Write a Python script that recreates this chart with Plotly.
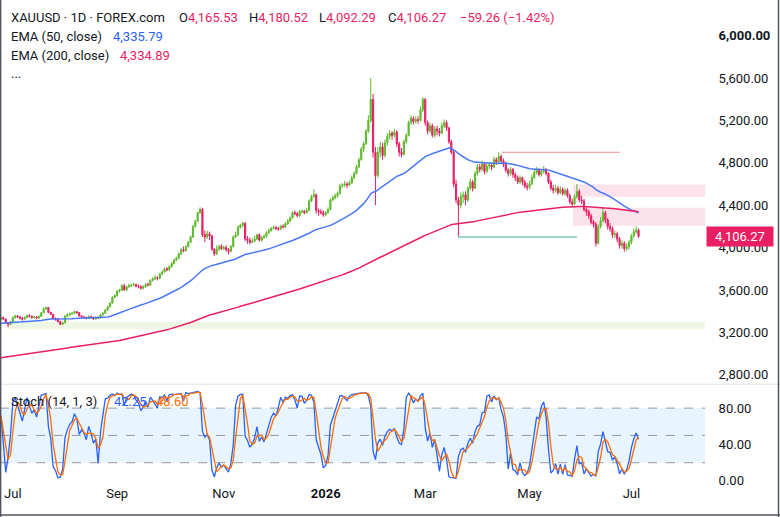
import pandas as pd
import plotly.graph_objects as go

# ---------------- data ----------------
first_open = 3320
closes = [
    3340, 3325, 3285, 3275, 3300, 3338, 3355, 3345, 3335, 3325,
    3340, 3358, 3350, 3340, 3345, 3335, 3350, 3385, 3425, 3435,
    3388, 3370, 3330, 3325, 3300, 3275, 3290, 3350, 3365, 3375,
    3380, 3395, 3385, 3355, 3345, 3340, 3330, 3350, 3340, 3325,
    3340, 3335, 3365, 3380, 3410, 3440, 3475, 3530, 3545, 3590,
    3595, 3640, 3600, 3630, 3640, 3645, 3650, 3635, 3630, 3615,
    3630, 3650, 3645, 3690, 3705, 3715, 3710, 3750, 3770, 3800,
    3790, 3820, 3850, 3880, 3900, 3940, 3980, 3970, 4010, 4050,
    4100, 4200, 4250, 4330, 4360, 4120, 4100, 4130, 4110, 3985,
    3940, 3985, 4010, 3990, 4000, 3980, 3965, 4010, 4100, 4120,
    4190, 4210, 4230, 4080, 4070, 4050, 4060, 4080, 4120, 4070,
    4095, 4105, 4140, 4160, 4180, 4190, 4180, 4175, 4200, 4195,
    4225, 4250, 4280, 4330, 4320, 4300, 4340, 4345, 4330, 4350,
    4440, 4480, 4500, 4350, 4340, 4330, 4310, 4330, 4360, 4450,
    4470, 4490, 4510, 4580, 4590, 4600, 4590, 4610, 4660, 4700,
    4760, 4830, 4930, 4980, 5100, 5200, 5400, 4900, 4680, 4900,
    4950, 4870, 4990, 5050, 5080, 5060, 5090, 4980, 4900, 4880,
    5000, 5060, 5180, 5220, 5190, 5210, 5200, 5300, 5400, 5180,
    5100, 5150, 5060, 5120, 5100, 5080, 5150, 5180, 5130, 5000,
    4900, 4600, 4450, 4400, 4480, 4500, 4450, 4560, 4620, 4560,
    4700, 4760, 4740, 4790, 4720, 4770, 4780, 4760, 4830, 4810,
    4860, 4820, 4790, 4730, 4700, 4740, 4690, 4660, 4620, 4660,
    4620, 4580, 4570, 4600, 4660, 4710, 4730, 4690, 4720, 4740,
    4700, 4620, 4560, 4540, 4560, 4520, 4550, 4510, 4540, 4490,
    4430, 4410, 4480, 4530, 4450, 4440, 4360, 4340, 4300, 4240,
    4220, 4040, 4200, 4250, 4330, 4260, 4200, 4180, 4120, 4130,
    4080, 4020, 4040, 3990, 4010, 4050, 4110, 4150, 4165.53, 4106.27,
]
highs = [
    3352, 3348, 3330, 3295, 3310, 3350, 3365, 3362, 3350, 3345,
    3352, 3368, 3372, 3360, 3358, 3352, 3360, 3392, 3432, 3440,
    3438, 3395, 3375, 3340, 3335, 3310, 3298, 3362, 3380, 3385,
    3392, 3405, 3400, 3390, 3362, 3355, 3348, 3358, 3356, 3348,
    3350, 3348, 3375, 3392, 3420, 3452, 3485, 3540, 3560, 3600,
    3610, 3655, 3658, 3640, 3660, 3660, 3668, 3660, 3650, 3645,
    3645, 3665, 3670, 3700, 3720, 3740, 3730, 3762, 3785, 3812,
    3815, 3832, 3862, 3895, 3915, 3955, 3995, 4010, 4020, 4065,
    4115, 4215, 4265, 4340, 4380, 4375, 4160, 4160, 4150, 4120,
    3995, 4020, 4030, 4030, 4020, 4020, 3995, 4025, 4115, 4150,
    4210, 4225, 4245, 4240, 4110, 4095, 4090, 4110, 4130, 4135,
    4110, 4125, 4155, 4180, 4195, 4210, 4205, 4195, 4215, 4220,
    4240, 4270, 4295, 4345, 4350, 4335, 4355, 4360, 4355, 4375,
    4455, 4500, 4550, 4510, 4370, 4365, 4350, 4345, 4380, 4465,
    4490, 4510, 4530, 4600, 4610, 4630, 4620, 4635, 4680, 4720,
    4780, 4850, 4950, 5000, 5120, 5250, 5600, 5450, 4950, 4950,
    5000, 4990, 5020, 5080, 5110, 5100, 5120, 5110, 5000, 4940,
    5020, 5080, 5200, 5250, 5240, 5240, 5240, 5330, 5420, 5410,
    5200, 5180, 5170, 5150, 5150, 5130, 5180, 5210, 5200, 5140,
    5020, 4920, 4640, 4480, 4520, 4530, 4530, 4580, 4650, 4640,
    4720, 4790, 4790, 4820, 4810, 4800, 4810, 4800, 4860, 4850,
    4900, 4880, 4840, 4810, 4750, 4760, 4750, 4710, 4680, 4680,
    4670, 4640, 4610, 4630, 4690, 4740, 4760, 4750, 4740, 4770,
    4750, 4710, 4640, 4590, 4590, 4580, 4580, 4570, 4560, 4560,
    4510, 4460, 4500, 4600, 4550, 4490, 4460, 4380, 4360, 4320,
    4260, 4240, 4220, 4290, 4370, 4350, 4280, 4230, 4200, 4160,
    4150, 4100, 4070, 4060, 4040, 4070, 4130, 4180, 4200, 4180.52,
]
lows = [
    3310, 3318, 3278, 3248, 3268, 3295, 3330, 3335, 3320, 3310,
    3318, 3332, 3340, 3328, 3330, 3322, 3328, 3345, 3380, 3410,
    3380, 3362, 3322, 3310, 3295, 3268, 3268, 3285, 3342, 3355,
    3366, 3372, 3375, 3348, 3338, 3330, 3322, 3325, 3332, 3318,
    3320, 3328, 3330, 3358, 3372, 3402, 3435, 3470, 3520, 3538,
    3575, 3590, 3592, 3590, 3620, 3628, 3635, 3625, 3615, 3605,
    3605, 3620, 3635, 3640, 3680, 3695, 3690, 3700, 3740, 3762,
    3775, 3782, 3810, 3840, 3870, 3890, 3930, 3955, 3960, 4000,
    4040, 4090, 4190, 4240, 4320, 4100, 4050, 4080, 4070, 3970,
    3920, 3930, 3970, 3975, 3975, 3960, 3935, 3955, 4000, 4090,
    4110, 4180, 4190, 4060, 4035, 4030, 4040, 4050, 4070, 4060,
    4055, 4080, 4095, 4130, 4150, 4170, 4165, 4155, 4165, 4180,
    4185, 4215, 4240, 4270, 4305, 4285, 4290, 4320, 4315, 4320,
    4345, 4430, 4470, 4320, 4300, 4310, 4290, 4300, 4320, 4350,
    4440, 4455, 4470, 4500, 4565, 4570, 4560, 4580, 4600, 4645,
    4690, 4750, 4820, 4900, 4970, 5080, 5180, 4850, 4400, 4660,
    4850, 4830, 4850, 4960, 5020, 5020, 5040, 4950, 4860, 4850,
    4870, 4980, 5050, 5160, 5160, 5170, 5170, 5190, 5280, 5150,
    5070, 5080, 5040, 5040, 5060, 5050, 5070, 5130, 5100, 4980,
    4880, 4570, 4420, 4100, 4370, 4420, 4400, 4430, 4540, 4530,
    4550, 4680, 4710, 4720, 4690, 4700, 4740, 4730, 4750, 4780,
    4800, 4790, 4760, 4710, 4670, 4680, 4660, 4630, 4600, 4600,
    4590, 4560, 4540, 4550, 4590, 4650, 4690, 4670, 4670, 4700,
    4680, 4600, 4540, 4510, 4520, 4500, 4500, 4490, 4490, 4470,
    4410, 4390, 4400, 4460, 4430, 4410, 4340, 4300, 4270, 4220,
    4190, 4010, 4030, 4180, 4240, 4230, 4170, 4150, 4090, 4090,
    4050, 3990, 3990, 3960, 3970, 3980, 4030, 4090, 4130, 4092.29,
]
ema50_seed = 3284      # EMA(50) value at the first visible bar
ema200_seed = 2955     # EMA(200) value at the first visible bar
start_date = "2025-06-24"
tick_months = ["2025-07-01", "2025-09-01", "2025-11-01", "2026-01-01",
               "2026-03-01", "2026-05-01", "2026-07-01"]
tick_labels = ["Jul", "Sep", "Nov", "<b>2026</b>", "Mar", "May", "Jul"]
price_ticks = [2800, 3200, 3600, 4000, 4400, 4800, 5200, 5600, 6000]
stoch_ticks = [0, 40, 80]
green_zone = (3230, 3300)
pink_zone_1 = (4480, 4595)
pink_zone_2 = (4205, 4375)
resistance = 4900
support = 4100
last_price = 4106.27

# ---------------- derived ----------------
n = len(closes)
opens = [first_open] + closes[:-1]
idx = list(range(n))
dates = pd.bdate_range(start_date, periods=n)
tickvals = [int((dates >= pd.Timestamp(m)).argmax()) for m in tick_months]


def ema(values, length, seed):
    a = 2.0 / (length + 1)
    out, e = [], seed
    for v in values:
        e = e + a * (v - e)
        out.append(e)
    return out


ema50 = ema(closes, 50, ema50_seed)
ema200 = ema(closes, 200, ema200_seed)

hs, ls, cs = pd.Series(highs), pd.Series(lows), pd.Series(closes)
hh = hs.rolling(14, min_periods=1).max()
ll = ls.rolling(14, min_periods=1).min()
k = 100 * (cs - ll) / (hh - ll)
d = k.rolling(3, min_periods=1).mean()

# ---------------- figure ----------------
W, H = 780, 517          # target picture size (all positions below use it)
H_LAYOUT = 523           # layout height (renderer shows it ~1% shorter)
PX = 2.37            # pixels per bar in the reference
X0 = 1.0             # pixel of bar 0
PLOT_R = 705
xr = [(0 - X0) / PX, (PLOT_R - X0) / PX]

UP = "#5fba2e"
DN = "#e91e63"
TXT = "#131722"
FONT = "Roboto"

fig = go.Figure()
fig.add_trace(go.Candlestick(
    x=idx, open=opens, high=highs, low=lows, close=closes,
    increasing=dict(line=dict(color=UP, width=1), fillcolor=UP),
    decreasing=dict(line=dict(color=DN, width=1), fillcolor=DN),
    whiskerwidth=0, xaxis="x", yaxis="y", showlegend=False, hoverinfo="skip"))
fig.add_trace(go.Scatter(x=idx, y=ema50, mode="lines",
                         line=dict(color="#4a78f5", width=1.5),
                         xaxis="x", yaxis="y", showlegend=False, hoverinfo="skip"))
fig.add_trace(go.Scatter(x=idx, y=ema200, mode="lines",
                         line=dict(color="#e91e63", width=1.5),
                         xaxis="x", yaxis="y", showlegend=False, hoverinfo="skip"))
fig.add_trace(go.Scatter(x=idx, y=list(k), mode="lines",
                         line=dict(color="#2962ff", width=1.3),
                         xaxis="x", yaxis="y2", showlegend=False, hoverinfo="skip"))
fig.add_trace(go.Scatter(x=idx, y=list(d), mode="lines",
                         line=dict(color="#ff6d00", width=1.3),
                         xaxis="x", yaxis="y2", showlegend=False, hoverinfo="skip"))

p_top, p_bot = 0, 383
s_top, s_bot = 384, 483
ppu = 0.1057
price_range = [6000 - (p_bot - 35.7) / ppu, 6000 + (35.7 - p_top) / ppu]
spu = 0.9083
stoch_range = [(480 - s_bot) / spu, (480 - s_top) / spu]

shapes = []
shapes.append(dict(type="rect", xref="x", yref="y", x0=(7 - X0) / PX, x1=xr[1],
                   y0=green_zone[0], y1=green_zone[1], line=dict(width=0),
                   fillcolor="rgba(139,195,74,0.15)", layer="below"))
for z in (pink_zone_1, pink_zone_2):
    shapes.append(dict(type="rect", xref="x", yref="y", x0=(573 - X0) / PX, x1=xr[1],
                       y0=z[0], y1=z[1], line=dict(width=0),
                       fillcolor="rgba(233,30,99,0.13)", layer="below"))
shapes.append(dict(type="line", xref="x", yref="y", x0=(502 - X0) / PX, x1=(620 - X0) / PX,
                   y0=resistance, y1=resistance, line=dict(color="#f28b8b", width=1.2)))
shapes.append(dict(type="line", xref="x", yref="y", x0=(458 - X0) / PX, x1=(577 - X0) / PX,
                   y0=support, y1=support, line=dict(color="#7fc8bd", width=1.5)))
shapes.append(dict(type="rect", xref="x domain", yref="y2", x0=0, x1=1, y0=20, y1=80,
                   line=dict(width=0), fillcolor="rgba(33,150,243,0.10)", layer="below"))
for lv in (80, 50, 20):
    shapes.append(dict(type="line", xref="x domain", yref="y2", x0=0, x1=1, y0=lv, y1=lv,
                       line=dict(color="#9598a1", width=1, dash="dash"), layer="below"))
shapes.append(dict(type="line", xref="paper", yref="paper", x0=0, x1=1,
                   y0=1 - 383.5 / H, y1=1 - 383.5 / H, line=dict(color="#e0e3eb", width=1)))
for (x0, y0, x1, y1) in [(0.6 / W, 0, 0.6 / W, 1), (778.5 / W, 0, 778.5 / W, 1),
                         (0, 1 - 514.0 / H, 1, 1 - 514.0 / H)]:
    shapes.append(dict(type="line", xref="paper", yref="paper", x0=x0, x1=x1, y0=y0, y1=y1,
                       line=dict(color="#50535e", width=1.5)))

ann = []


def txt(x, y, text, color=TXT, size=13):
    ann.append(dict(xref="paper", yref="paper", x=x / W, y=1 - y / H, text=text,
                    showarrow=False, xanchor="left", yanchor="middle",
                    font=dict(family=FONT, size=size, color=color)))


PINK = "#e91e63"
txt(9, 17, "XAUUSD · 1D · FOREX.com")
txt(177, 17, f"O<span style='color:{PINK}'>4,165.53</span>")
txt(247, 17, f"H<span style='color:{PINK}'>4,180.52</span>")
txt(317, 17, f"L<span style='color:{PINK}'>4,092.29</span>")
txt(386, 17, f"C<span style='color:{PINK}'>4,106.27</span>")
txt(458, 17, "−59.26 (−1.42%)", PINK)
txt(9, 36, "EMA (50, close)")
txt(111, 36, "4,335.79", "#2962ff")
txt(9, 55, "EMA (200, close)")
txt(118, 55, "4,334.89", PINK)
txt(9, 73, "...")
txt(9, 401, "Stoch (14, 1, 3)")
txt(112, 401, "42.25", "#2962ff")
txt(154, 401, "48.60", "#ff6d00")

ann.append(dict(xref="paper", yref="y", x=706 / W, y=last_price, text="4,106.27",
                showarrow=False, xanchor="left", yanchor="middle", bgcolor=PINK,
                borderpad=2, width=62, align="center",
                font=dict(family=FONT, size=13, color="white")))

fig.update_layout(
    width=W, height=H_LAYOUT, margin=dict(l=0, r=0, t=0, b=0),
    paper_bgcolor="white", plot_bgcolor="white",
    shapes=shapes, annotations=ann, showlegend=False,
    xaxis=dict(domain=[0, PLOT_R / W], range=xr, anchor="y2",
               tickvals=tickvals, ticktext=tick_labels, showgrid=False,
               zeroline=False, showline=False, ticks="",
               tickfont=dict(family=FONT, size=13, color=TXT),
               rangeslider=dict(visible=False), fixedrange=True),
    yaxis=dict(domain=[1 - p_bot / H, 1 - p_top / H], range=price_range, side="right",
               tickvals=price_ticks,
               ticktext=[f"<b>{v:,.2f}</b>" if v == 6000 else f"{v:,.2f}" for v in price_ticks],
               showgrid=False, zeroline=False, showline=False,
               ticks="outside", ticklen=10, tickcolor="rgba(0,0,0,0)",
               tickfont=dict(family=FONT, size=13, color=TXT), anchor="x"),
    yaxis2=dict(domain=[1 - s_bot / H, 1 - s_top / H], range=stoch_range, side="right",
                tickvals=stoch_ticks, ticktext=[f"{v:.2f}" for v in stoch_ticks],
                showgrid=False, zeroline=False, showline=False,
                ticks="outside", ticklen=10, tickcolor="rgba(0,0,0,0)",
                tickfont=dict(family=FONT, size=13, color=TXT), anchor="x"),
)

fig.write_html("out.html")
